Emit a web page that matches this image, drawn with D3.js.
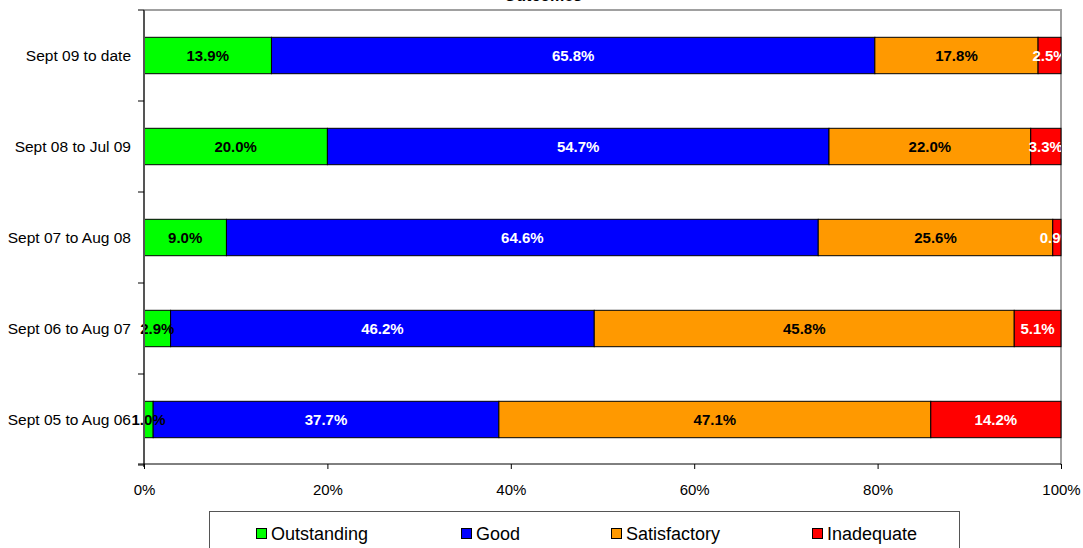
<!DOCTYPE html>
<html>
<head>
<meta charset="utf-8">
<script src="https://cdn.jsdelivr.net/npm/d3@7"></script>
<style>
  body { margin: 0; background: #fff; }
  svg { display: block; font-family: Arial, "Liberation Sans", sans-serif; }
</style>
</head>
<body>
<div id="chart"></div>
<script>
// periods, top to bottom
var periods = ["Sept 09 to date", "Sept 08 to Jul 09", "Sept 07 to Aug 08", "Sept 06 to Aug 07", "Sept 05 to Aug 06"];

var seriesNames = ["Outstanding", "Good", "Satisfactory", "Inadequate"];
var seriesColors = ["#00ff00", "#0000ff", "#ff9900", "#ff0000"];
var labelColors = ["#000", "#fff", "#000", "#fff"];

var outstanding = [13.9, 20.0, 9.0, 2.9, 1.0];
var good = [65.8, 54.7, 64.6, 46.2, 37.7];
var satisfactory = [17.8, 22.0, 25.6, 45.8, 47.1];
var inadequate = [2.5, 3.3, 0.9, 5.1, 14.2];

var xTicks = [0, 20, 40, 60, 80, 100];

var width = 1083, height = 548;
var plot = { left: 144, right: 1061, top: 10, bottom: 465 };

var svg = d3.select("#chart").append("svg")
    .attr("width", width)
    .attr("height", height);

// title, mostly cut off by the top edge
svg.append("text")
    .attr("x", 543)
    .attr("y", 0.8)
    .attr("text-anchor", "middle")
    .style("font-size", "16px")
    .style("font-weight", "bold")
    .text("Outcomes");

// stacked rows
var rows = periods.map(function(p, i) {
    var vals = [outstanding[i], good[i], satisfactory[i], inadequate[i]];
    var total = d3.sum(vals), acc = 0;
    return vals.map(function(v, k) {
        var seg = { period: p, k: k, value: v, x0: acc / total * 100, x1: (acc + v) / total * 100 };
        acc += v;
        return seg;
    });
});

var x = d3.scaleLinear().domain([0, 100]).range([plot.left, plot.right]);
var y = d3.scaleBand().domain(periods).range([plot.top, plot.bottom]).paddingInner(0.6).paddingOuter(0.3);
var yBounds = d3.scaleLinear().domain([0, periods.length]).range([plot.top, plot.bottom]);

// plot area border (top and right, gray)
svg.append("path")
    .attr("d", "M" + plot.left + "," + plot.top + "H" + plot.right + "V" + plot.bottom)
    .attr("fill", "none")
    .attr("stroke", "#a0a0a0")
    .attr("stroke-width", 2);

svg.append("clipPath").attr("id", "clip")
    .append("rect").attr("x", 0).attr("y", 0).attr("width", plot.right).attr("height", height);

var rowG = svg.selectAll("g.row")
    .data(rows)
    .enter()
    .append("g")
        .attr("class", "row");

rowG.selectAll("rect")
    .data(function(d) { return d; })
    .enter()
    .append("rect")
        .attr("x", function(d) { return x(d.x0); })
        .attr("y", function(d) { return y(d.period); })
        .attr("width", function(d) { return x(d.x1) - x(d.x0); })
        .attr("height", y.bandwidth())
        .attr("fill", function(d) { return seriesColors[d.k]; })
        .attr("stroke", "#000")
        .attr("stroke-width", 1);

rowG.selectAll("text")
    .data(function(d) { return d; })
    .enter()
    .append("text")
        .attr("clip-path", "url(#clip)")
        .attr("x", function(d) { return (x(d.x0) + x(d.x1)) / 2; })
        .attr("y", function(d) { return y(d.period) + y.bandwidth() / 2; })
        .attr("dy", "0.36em")
        .attr("text-anchor", "middle")
        .attr("fill", function(d) { return labelColors[d.k]; })
        .style("font-size", "15px")
        .style("font-weight", "bold")
        .text(function(d) { return d.value.toFixed(1) + "%"; });

// y axis with ticks between categories
var yAxis = svg.append("g");
yAxis.append("line")
    .attr("x1", plot.left).attr("x2", plot.left)
    .attr("y1", plot.top).attr("y2", plot.bottom + 2)
    .attr("stroke", "#555").attr("stroke-width", 2);
yAxis.selectAll("line.tick")
    .data(d3.range(periods.length + 1))
    .enter()
    .append("line")
        .attr("class", "tick")
        .attr("x1", plot.left - 6).attr("x2", plot.left)
        .attr("y1", function(d) { return yBounds(d); })
        .attr("y2", function(d) { return yBounds(d); })
        .attr("stroke", "#000");
yAxis.selectAll("text")
    .data(periods)
    .enter()
    .append("text")
        .attr("x", 131)
        .attr("y", function(d) { return y(d) + y.bandwidth() / 2; })
        .attr("dy", "0.36em")
        .attr("text-anchor", "end")
        .style("font-size", "15.5px")
        .text(function(d) { return d; });

// x axis
var xAxis = svg.append("g")
    .attr("transform", "translate(0," + (plot.bottom - 1) + ")")
    .call(d3.axisBottom(x).tickValues(xTicks).tickSize(5).tickSizeOuter(0)
        .tickFormat(function(d) { return d + "%"; }));
xAxis.select(".domain").attr("stroke", "#000").attr("d", "M" + (plot.left - 6) + ",0H" + plot.right);
xAxis.selectAll("text")
    .attr("y", 20)
    .attr("dy", "0.71em")
    .style("font-size", "15px")
    .style("font-family", "Arial, 'Liberation Sans', sans-serif");

// legend
var legend = svg.append("g");
legend.append("rect")
    .attr("x", 209.5).attr("y", 511.5)
    .attr("width", 750).attr("height", 50)
    .attr("fill", "#fff")
    .attr("stroke", "#555");

var legendX = [256, 461, 611, 812];
var item = legend.selectAll("g.item")
    .data(seriesNames)
    .enter()
    .append("g")
        .attr("class", "item")
        .attr("transform", function(d, i) { return "translate(" + legendX[i] + ",0)"; });
item.append("rect")
    .attr("x", 0.5).attr("y", 528.5)
    .attr("width", 10).attr("height", 10)
    .attr("fill", function(d, i) { return seriesColors[i]; })
    .attr("stroke", "#000");
item.append("text")
    .attr("x", 15)
    .attr("y", 540)
    .style("font-size", "18px")
    .text(function(d) { return d; });
</script>
</body>
</html>
